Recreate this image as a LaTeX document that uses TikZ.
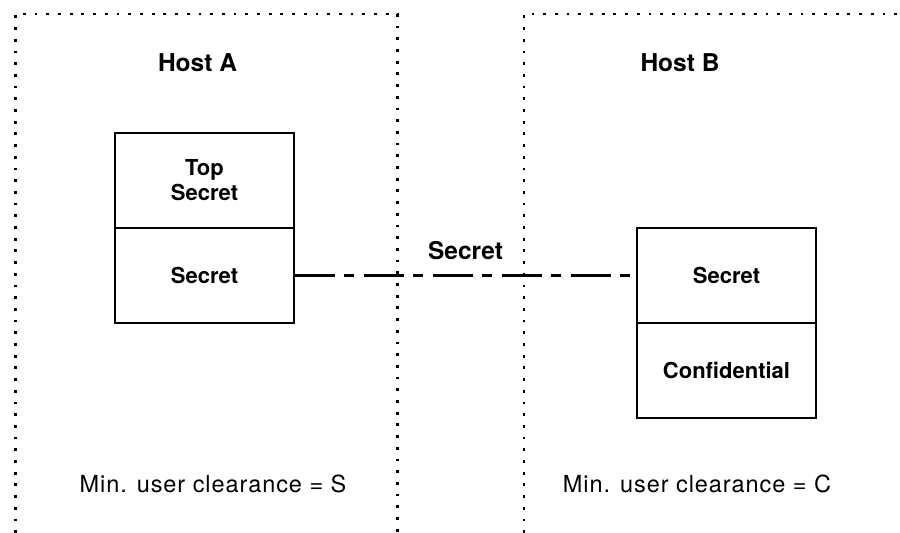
\documentclass[tikz,border=0pt]{standalone}
\usepackage{fontspec}
\setmainfont{TeX Gyre Heros}
\newfontfamily\spacedfont[LetterSpace=4]{TeX Gyre Heros}

\begin{document}
\begin{tikzpicture}[x=1pt,y=-1pt,
  hostframe/.style={line width=2.9pt,dash pattern=on 2.8pt off 8.9pt},
  level/.style={draw,line width=2pt,minimum width=179pt,minimum height=95pt,
    inner sep=0pt,align=center,font=\bfseries\fontsize{22}{25}\selectfont},
  heading/.style={font=\bfseries\fontsize{24.5}{28}\selectfont},
  clearance/.style={font=\spacedfont\fontsize{23.5}{27}\selectfont},
  link/.style={line width=2.2pt,dash pattern=on 40pt off 9pt on 10pt off 10pt}]
\useasboundingbox (0,0) rectangle (900,533);
%\draw[help lines,step=50] (0,0) grid (900,533);
% host boundaries, open at the bottom
\draw[hostframe] (15.5,533) -- (15.5,14) -- (397.5,14) -- (397.5,533);
\draw[hostframe] (524,533) -- (524,14) -- (900,14);
\node[heading] (hostA) at (197.5,62.5) {Host A};
\node[heading] (hostB) at (680,62.5) {Host B};
% security levels of each host
\node[level] (topsecA) at (204.5,180) {Top\\Secret};
\node[level] (secA) at (204.5,275.5) {Secret};
\node[level] (secB) at (726.5,275.5) {Secret};
\node[level] (confB) at (726.5,370) {Confidential};
% network link
\draw[link] (secA.east) -- node[heading,midway,above=11pt] (linklabel) {Secret} (secB.west);
\node[clearance] (clrA) at (213,484) {Min. user clearance = S};
\node[clearance] (clrB) at (697,484) {Min. user clearance = C};
\end{tikzpicture}
\end{document}
